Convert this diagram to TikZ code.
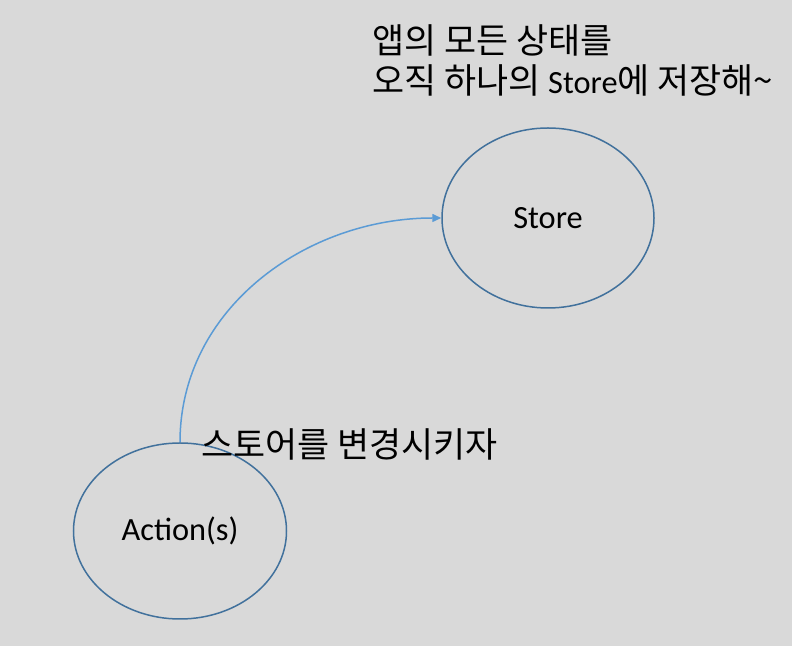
\documentclass[tikz,border=0pt]{standalone}
\usepackage{fontspec}
\setmainfont{Carlito}
\newfontfamily\kr[Scale=1.077]{Noto Sans CJK KR}
\usepackage{xcolor}
\usetikzlibrary{positioning,arrows.meta,shapes.geometric}
\definecolor{paper}{HTML}{D9D9D9}
\definecolor{rim}{HTML}{41719C}
\definecolor{flowc}{HTML}{5B9BD5}
\tikzset{
  big/.style={font=\fontsize{32.5}{38}\selectfont, text=black, inner sep=0pt},
}
\begin{document}
\begin{tikzpicture}[x=1bp, y=1bp,
  blob/.style={ellipse, draw=rim, line width=1.5bp, inner sep=0pt, big},
  flow/.style={-{Triangle[length=9bp, width=8bp]}, flowc, line width=1.5bp}]
\fill[paper] (0,0) rectangle (792,646);
\useasboundingbox (0,0) rectangle (792,646);
\node[blob, minimum width=212bp, minimum height=180bp] (store) at (548,428) {Store};
\node[blob, minimum width=213bp, minimum height=176bp] (act) at (180,115) {Action(s)};
\draw[flow] (act.north) to[out=90, in=180] (store.west);
\node[big, anchor=base west] (goal1) at (372,592) {\kr 앱의 모든 상태를};
\node[big, anchor=base west] (goal2) at (372,552) {{\kr 오직 하나의 }Store{\kr 에 저장해\textasciitilde}};
\node[big, anchor=base west] (chg) at (201,188) {\kr 스토어를 변경시키자};
\end{tikzpicture}
\end{document}
